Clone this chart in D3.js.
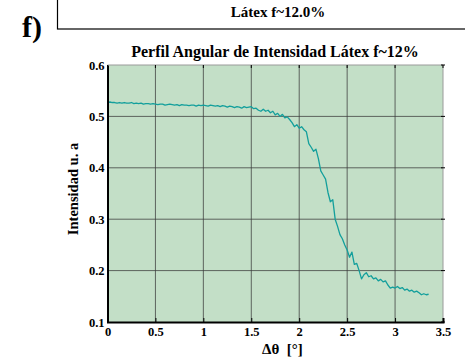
<!DOCTYPE html>
<html>
<head>
<meta charset="utf-8">
<script src="https://cdn.jsdelivr.net/npm/d3@7"></script>
<style>
  html, body { margin: 0; padding: 0; background: #fff; }
  svg text { font-family: "Liberation Serif", "DejaVu Serif", serif; font-weight: bold; fill: #000; }
</style>
</head>
<body>
<svg id="chart" width="465" height="357"></svg>
<script>
// Angular intensity profile, latex f~12%
const panelLabel = "f)";
const sampleLabel = "Látex f~12.0%";
const chartTitle = "Perfil Angular de Intensidad Látex f~12%";
const xTitle = "Δθ  [°]";
const yTitle = "Intensidad u. a";

const xTicks = [0, 0.5, 1, 1.5, 2, 2.5, 3, 3.5];
const yTicks = [0.1, 0.2, 0.3, 0.4, 0.5, 0.6];

// samples every 0.025° starting at 0
const angleStep = 0.025;
const intensity = [
  0.527, 0.528, 0.527, 0.527, 0.526, 0.527, 0.526, 0.527, 0.526, 0.526,
  0.527, 0.525, 0.526, 0.525, 0.526, 0.524, 0.525, 0.525, 0.524, 0.525,
  0.524, 0.523, 0.524, 0.524, 0.522, 0.523, 0.524, 0.523, 0.522, 0.523,
  0.521, 0.523, 0.522, 0.522, 0.521, 0.522, 0.522, 0.520, 0.522, 0.521,
  0.522, 0.521, 0.520, 0.522, 0.521, 0.520, 0.521, 0.519, 0.521, 0.520,
  0.518, 0.520, 0.519, 0.517, 0.519, 0.518, 0.516, 0.519, 0.517, 0.518,
  0.519, 0.515, 0.516, 0.512, 0.510, 0.514, 0.510, 0.512, 0.507, 0.510,
  0.503, 0.506, 0.500, 0.504, 0.497, 0.499, 0.494, 0.488, 0.480, 0.484,
  0.477, 0.480, 0.474, 0.470, 0.447, 0.440, 0.432, 0.436, 0.418, 0.394,
  0.386, 0.378, 0.352, 0.334, 0.338, 0.300, 0.286, 0.270, 0.262, 0.250,
  0.240, 0.226, 0.236, 0.212, 0.214, 0.200, 0.184, 0.192, 0.196, 0.188,
  0.190, 0.184, 0.186, 0.180, 0.183, 0.178, 0.180, 0.172, 0.166, 0.168,
  0.166, 0.169, 0.165, 0.167, 0.162, 0.164, 0.160, 0.162, 0.158, 0.160,
  0.157, 0.153, 0.155, 0.153, 0.154
];
const angles = intensity.map((_, i) => +(i * angleStep).toFixed(3));

const svg = d3.select("#chart");
const plot = { left: 107.5, right: 443, top: 65, bottom: 322 };

const x = d3.scaleLinear().domain([0, 3.5]).range([plot.left, plot.right]);
const y = d3.scaleLinear().domain([0.1, 0.6]).range([plot.bottom, plot.top]);

// header box with sample name
svg.append("rect")
  .attr("x", 57.5).attr("y", -2).attr("width", 420).attr("height", 31)
  .attr("fill", "none").attr("stroke", "#000").attr("stroke-width", 1.2);
svg.append("text").attr("x", 278).attr("y", 17)
  .attr("text-anchor", "middle").attr("font-size", 15).text(sampleLabel);
svg.append("text").attr("x", 22).attr("y", 37)
  .attr("font-size", 30).text(panelLabel);

// plot background
svg.append("rect")
  .attr("x", plot.left).attr("y", plot.top)
  .attr("width", plot.right - plot.left).attr("height", plot.bottom - plot.top)
  .attr("fill", "#c3dfc7");

// grid
const grid = svg.append("g").attr("stroke", "#3a3a3a").attr("stroke-opacity", 0.75).attr("stroke-width", 1);
grid.selectAll("line.v").data(xTicks.slice(1, -1)).join("line")
  .attr("x1", d => x(d)).attr("x2", d => x(d))
  .attr("y1", plot.top).attr("y2", plot.bottom);
grid.selectAll("line.h").data(yTicks.slice(1, -1)).join("line")
  .attr("x1", plot.left).attr("x2", plot.right)
  .attr("y1", d => y(d)).attr("y2", d => y(d));

// top and right frame
svg.append("line").attr("x1", plot.left).attr("x2", plot.right)
  .attr("y1", plot.top).attr("y2", plot.top).attr("stroke", "#9a9a9a").attr("stroke-width", 1);
svg.append("line").attr("x1", plot.right).attr("x2", plot.right)
  .attr("y1", plot.top).attr("y2", plot.bottom).attr("stroke", "#9a9a9a").attr("stroke-width", 1);

// curve
const line = d3.line().x((d, i) => x(angles[i])).y(d => y(d));
svg.append("path").datum(intensity)
  .attr("d", line).attr("fill", "none")
  .attr("stroke", "#139f9c").attr("stroke-width", 1.3).attr("stroke-linejoin", "round");

// axes
const xAxis = d3.axisBottom(x).tickValues(xTicks).tickSize(-4).tickPadding(5)
  .tickFormat(d => d3.format("")(d));
const gx = svg.append("g").attr("transform", `translate(0,${plot.bottom})`).call(xAxis);
gx.select(".domain").attr("stroke-width", 2);
gx.selectAll("text").attr("font-size", 12.5).attr("font-family", "Liberation Serif").attr("font-weight", "bold");

const yAxis = d3.axisLeft(y).tickValues(yTicks).tickSize(0).tickPadding(3)
  .tickFormat(d3.format(".1f"));
const gy = svg.append("g").attr("transform", `translate(${plot.left},0)`).call(yAxis);
gy.select(".domain").attr("stroke-width", 2);
gy.selectAll("text").attr("font-size", 12.5).attr("font-family", "Liberation Serif").attr("font-weight", "bold");

// small ticks on the top and right frame
const tk = svg.append("g").attr("stroke", "#000").attr("stroke-width", 1);
tk.selectAll("line.t").data(xTicks).join("line")
  .attr("x1", d => x(d)).attr("x2", d => x(d)).attr("y1", plot.top).attr("y2", plot.top + 3);
tk.selectAll("line.r").data(yTicks).join("line")
  .attr("x1", plot.right - 2).attr("x2", plot.right + 2).attr("y1", d => y(d)).attr("y2", d => y(d));

// titles
svg.append("text").attr("x", 275).attr("y", 57)
  .attr("text-anchor", "middle").attr("font-size", 16).text(chartTitle);
svg.append("text").attr("x", 262).attr("y", 354)
  .attr("font-size", 15).attr("xml:space", "preserve").style("white-space", "pre").text(xTitle);
svg.append("text")
  .attr("transform", `translate(78,189) rotate(-90)`)
  .attr("text-anchor", "middle").attr("font-size", 14.5).text(yTitle);
</script>
</body>
</html>
